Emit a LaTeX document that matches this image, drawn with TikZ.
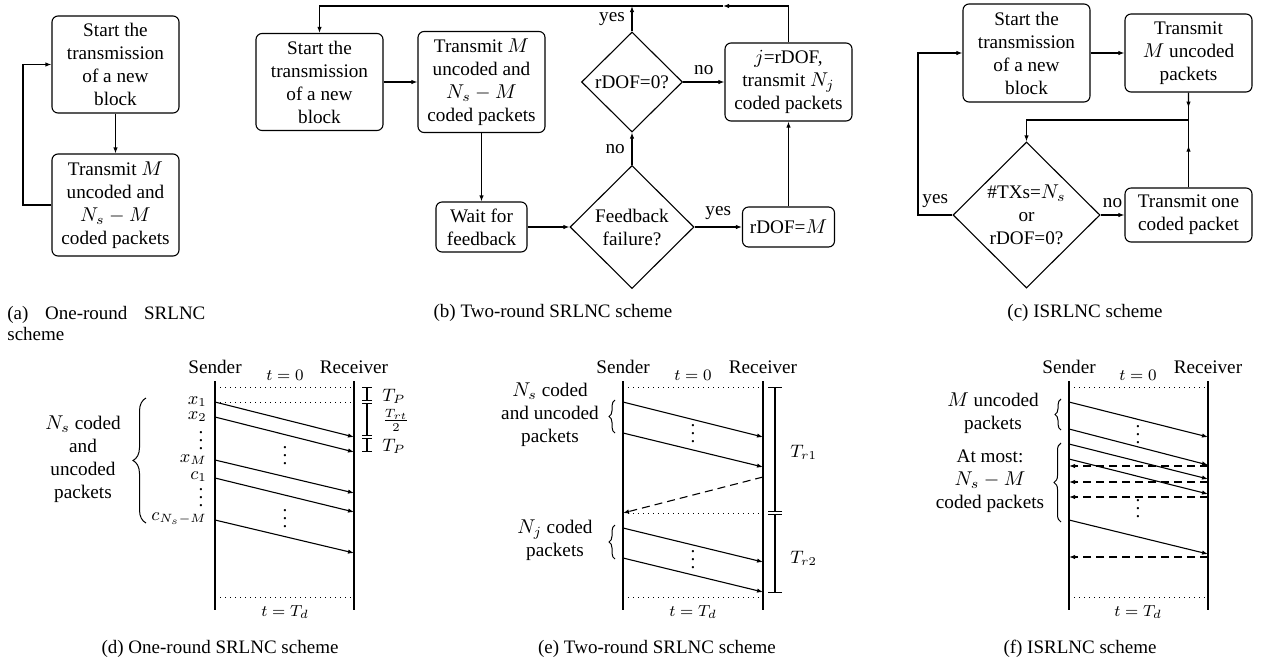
\documentclass[tikz,border=0pt]{standalone}
\usepackage{fontspec}
\setmainfont{Liberation Serif}
\usetikzlibrary{shapes.geometric,arrows.meta,decorations.pathreplacing,calc}
\newcommand\myvdots{\vbox{\baselineskip4pt\lineskiplimit0pt\hbox{.}\hbox{.}\hbox{.}}}
\begin{document}
\begin{tikzpicture}[x=0.5pt,y=-0.5pt,
  txt/.style={font=\fontsize{9.6pt}{11.5pt}\selectfont},
  every node/.style={txt},
  box/.style={draw,rounded corners=3pt,align=center,inner sep=0pt,line width=0.55pt},
  dia/.style={draw,diamond,align=center,inner sep=0pt,line width=0.55pt},
  arr/.style={-{Latex[length=3pt,width=2.2pt]},line width=0.55pt},
  ln/.style={line width=0.55pt},
  dasharr/.style={arr,dash pattern=on 4pt off 2.5pt},
  tl/.style={line width=0.75pt},
  dotline/.style={line width=0.5pt,dash pattern=on 0.5pt off 2pt},
  brc/.style={decorate,decoration={brace,amplitude=#1},line width=0.5pt},
  dimline/.style={{Bar[width=#1]}-{Bar[width=#1]},line width=0.55pt},
  figcap/.style={font=\fontsize{9.5pt}{10.5pt}\selectfont,anchor=base,inner sep=0pt},
  smalltxt/.style={font=\fontsize{8.5pt}{10pt}\selectfont},
  lab/.style={inner sep=0pt,font=\fontsize{9pt}{10pt}\selectfont},
  vd/.style={inner sep=0pt,font=\fontsize{9.6pt}{11.5pt}\selectfont},
  grp/.style={align=center,inner sep=0pt},
]
\useasboundingbox (0,0) rectangle (1261,665);

% ---------------- (a) ----------------
\node[box,minimum width=63.5pt,minimum height=48.5pt] (a1) at (115.5,64.5) {Start the\\transmission\\of a new\\block};
\node[box,minimum width=63.5pt,minimum height=51pt] (a2) at (115.5,205) {Transmit $M$\\uncoded and\\$N_s-M$\\coded packets};
\coordinate (aL) at (23,205);
\draw[arr] (a1) -- (a2);
\draw[arr] (a2.west) -- (aL) |- (a1.west);
\node[figcap,anchor=base west] (capa1) at (7,319) {\makebox[99pt][s]{(a) One-round SRLNC}};
\node[figcap,anchor=base west] (capa2) at (7,340) {scheme};

% ---------------- (b) ----------------
\node[box,minimum width=63.5pt,minimum height=48.5pt] (b1) at (319.5,82) {Start the\\transmission\\of a new\\block};
\node[box,minimum width=63.5pt,minimum height=50.5pt] (b2) at (481.5,82) {Transmit $M$\\uncoded and\\$N_s-M$\\coded packets};
\node[box,minimum width=45.5pt,minimum height=25pt] (b3) at (481.5,227) {Wait for\\feedback};
\node[dia,minimum width=62pt,minimum height=61.5pt] (bf) at (632,227) {Feedback\\failure?};
\node[dia,minimum width=50.5pt,minimum height=50pt] (br) at (632,82) {rDOF=0?};
\node[box,minimum width=63.5pt,minimum height=39pt] (bj) at (788.5,82) {$j$=rDOF,\\transmit $N_j$\\coded packets};
\node[box,minimum width=46pt,minimum height=20pt] (bm) at (788.5,227) {rDOF=$M$};
\coordinate (bt) at (723,6);
\coordinate (byes) at (632,6);
\draw[arr] (b1) -- (b2);
\draw[arr] (b2) -- (b3);
\draw[arr] (b3) -- (bf);
\draw[arr] (bf) -- node[left] {no} (br);
\draw[arr] (bf) -- node[above] {yes} (bm);
\draw[arr] (br) -- node[above] {no} (bj);
\draw[arr] (bm) -- (bj);
\draw[arr] (br) -- node[left] {yes} (byes);
\draw[arr] (bj.north) |- (bt);
\draw[arr] (bt) -| (b1.north);
\node[figcap] (capb) at (553,317) {(b) Two-round SRLNC scheme};

% ---------------- (c) ----------------
\node[box,minimum width=63.5pt,minimum height=49pt] (c1) at (1026.5,53) {Start the\\transmission\\of a new\\block};
\node[box,minimum width=63.5pt,minimum height=39pt] (c2) at (1188.5,53) {Transmit\\$M$ uncoded\\packets};
\node[dia,minimum width=73.5pt,minimum height=73pt] (cd) at (1026.5,215) {\#TXs=$N_s$\\or\\rDOF=0?};
\node[box,minimum width=63.5pt,minimum height=27pt] (c3) at (1188.5,215) {Transmit one\\coded packet};
\coordinate (cj) at (1188.5,120);
\coordinate (cl) at (918,215);
\draw[arr] (c1) -- (c2);
\draw[ln] (c2) -- (cj);
\draw[arr] (c2.south) -- ($(c2.south)!0.55!(cj)$);
\draw[ln] (c3) -- (cj);
\draw[arr] (c3.north) -- ($(c3.north)!0.62!(cj)$);
\draw[arr] (cj) -| (cd);
\draw[arr] (cd) -- node[above] {no} (c3);
\draw[arr] (cd.west) -- node[above] {yes} (cl) |- (c1.west);
\node[figcap] (capc) at (1085,317) {(c) ISRLNC scheme};

% ---------------- (d) ----------------
\draw[tl] (215,381) -- (215,610);
\draw[tl] (354,381) -- (354,610);
\node (dsend) at (215,367) {Sender};
\node (drec) at (354,367) {Receiver};
\node[smalltxt] (dt0) at (285,375) {$t=0$};
\node[smalltxt] (dtd) at (285,612) {$t=T_d$};
\draw[dotline] (215,387) -- (354,387);
\draw[dotline] (215,402) -- (354,402);
\draw[dotline] (215,597) -- (354,597);
\draw[arr] (215,402) -- (354,437);
\draw[arr] (215,417) -- (354,452);
\draw[arr] (215,460) -- (354,493);
\draw[arr] (215,478) -- (354,512);
\draw[arr] (215,520) -- (354,553);
\node[lab,anchor=east] at (207,402) {$x_1$};
\node[lab,anchor=east] at (207,417) {$x_2$};
\node[vd] at (201,441) {\myvdots};
\node[lab,anchor=east] at (207,460) {$x_M$};
\node[lab,anchor=east] at (207,477) {$c_1$};
\node[vd] at (201,498) {\myvdots};
\node[lab,anchor=east] at (207,519) {$c_{N_s-M}$};
\node[vd] at (285,456) {\myvdots};
\node[vd] at (285,519) {\myvdots};
\draw[brc=6.5pt] (146,523) -- (146,398);
\node[grp] (dgrp) at (83,459) {$N_s$ coded\\and\\uncoded\\packets};
\draw[dimline=5pt] (367,387) -- (367,401);
\draw[dimline=5pt] (367,403) -- (367,436);
\draw[dimline=5pt] (367,438) -- (367,452);
\node[lab,anchor=west] at (382,396) {$T_P$};
\node[lab,anchor=west] at (382,420) {$\frac{T_{rt}}{2}$};
\node[lab,anchor=west] at (382,446) {$T_P$};
\node[figcap] (capd) at (220,653) {(d) One-round SRLNC scheme};

% ---------------- (e) ----------------
\draw[tl] (623,381) -- (623,610);
\draw[tl] (763,381) -- (763,610);
\node (esend) at (623,367) {Sender};
\node (erec) at (763,367) {Receiver};
\node[smalltxt] (et0) at (693,375) {$t=0$};
\node[smalltxt] (etd) at (693,612) {$t=T_d$};
\draw[dotline] (623,387) -- (763,387);
\draw[dotline] (623,513) -- (763,513);
\draw[dotline] (623,597) -- (763,597);
\draw[arr] (623,402) -- (763,437);
\draw[arr] (623,433) -- (763,467);
\draw[dasharr] (763,477) -- (623,513);
\draw[arr] (623,528) -- (763,562);
\draw[arr] (623,558) -- (763,592);
\node[vd] at (693,434) {\myvdots};
\node[vd] at (693,560) {\myvdots};
\draw[dimline=7pt] (775,387) -- (775,512);
\draw[dimline=7pt] (775,514) -- (775,593);
\node[lab,anchor=west] at (790,452) {$T_{r1}$};
\node[lab,anchor=west] at (790,558) {$T_{r2}$};
\draw[brc=3pt] (615,433) -- (615,400);
\draw[brc=3pt] (615,559) -- (615,525);
\node[grp] (egrp1) at (550,415) {$N_s$ coded\\and uncoded\\packets};
\node[grp] (egrp2) at (555,540) {$N_j$ coded\\packets};
\node[figcap] (cape) at (657,653) {(e) Two-round SRLNC scheme};

% ---------------- (f) ----------------
\draw[tl] (1069,381) -- (1069,610);
\draw[tl] (1208,381) -- (1208,610);
\node (fsend) at (1069,367) {Sender};
\node (frec) at (1208,367) {Receiver};
\node[smalltxt] (ft0) at (1138,375) {$t=0$};
\node[smalltxt] (ftd) at (1138,612) {$t=T_d$};
\draw[dotline] (1069,387) -- (1208,387);
\draw[dotline] (1069,597) -- (1208,597);
\draw[arr] (1069,402) -- (1208,437);
\draw[arr] (1069,429) -- (1208,465);
\draw[arr] (1069,444) -- (1208,479);
\draw[arr] (1069,459) -- (1208,494);
\draw[arr] (1069,520) -- (1208,554);
\draw[dasharr] (1208,466) -- (1069,466);
\draw[dasharr] (1208,482) -- (1069,482);
\draw[dasharr] (1208,497) -- (1069,497);
\draw[dasharr] (1208,557) -- (1069,557);
\node[vd] at (1138,435) {\myvdots};
\node[vd] at (1138,509) {\myvdots};
\draw[brc=3pt] (1061,430) -- (1061,399);
\draw[brc=3.5pt] (1061,522) -- (1061,443);
\node[grp] (fgrp1) at (993,413) {$M$ uncoded\\packets};
\node[grp] (fgrp2) at (990,481) {At most:\\$N_s-M$\\coded packets};
\node[figcap] (capf) at (1080,653) {(f) ISRLNC scheme};
\end{tikzpicture}
\end{document}
